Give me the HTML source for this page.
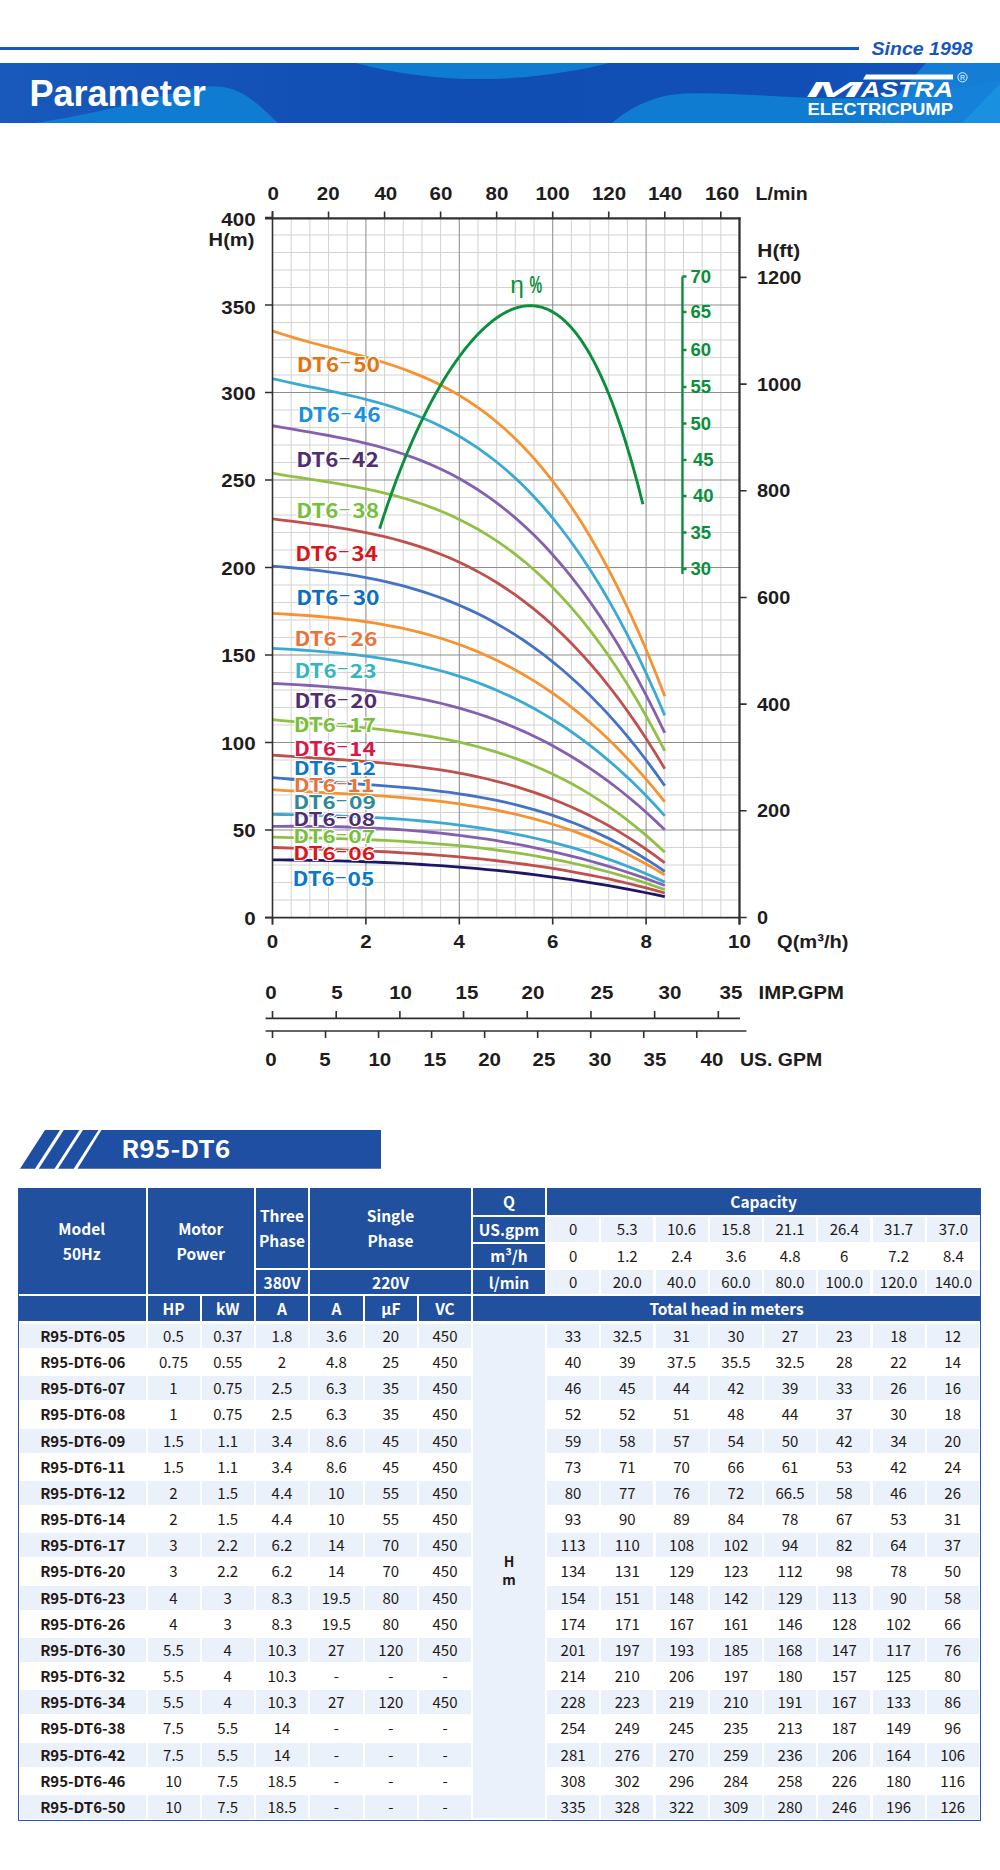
<!DOCTYPE html>
<html><head><meta charset="utf-8"><title>Parameter</title>
<style>
*{margin:0;padding:0;box-sizing:border-box}
html,body{width:1000px;height:1870px;background:#fff;overflow:hidden}
body{position:relative;font-family:"Liberation Sans",Arial,sans-serif}
.abs{position:absolute}
.chart{position:absolute;left:0;top:0}
.c{position:absolute;display:flex;align-items:center;justify-content:center;text-align:center;white-space:nowrap;padding-bottom:1px}
.hd{padding-bottom:0;color:#fff;font-family:"Noto Sans CJK SC","Liberation Sans",sans-serif;font-weight:700;font-size:15.5px;line-height:25px;letter-spacing:0}
.dt{color:#231815;font-family:"Noto Sans CJK SC","Liberation Sans",sans-serif;font-weight:400;font-size:15px}
.md{color:#231815;font-family:"Noto Sans CJK SC","Liberation Sans",sans-serif;font-weight:700;font-size:15px}
.hm{color:#231815;font-family:"Noto Sans CJK SC","Liberation Sans",sans-serif;font-weight:700;font-size:14px;line-height:18px}
</style></head>
<body>

<div class="abs" style="left:0;top:46.5px;width:858.5px;height:3px;background:#1a56c0"></div>
<svg class="abs" style="left:860px;top:30px" width="140" height="30" viewBox="860 30 140 30"><text x="871.5" y="54.6" font-family="Liberation Sans, Arial, sans-serif" font-weight="bold" font-style="italic" font-size="18.6" fill="#1a56c0" textLength="101" lengthAdjust="spacingAndGlyphs">Since 1998</text></svg>
<svg class="abs" style="left:0;top:63px" width="1000" height="60" viewBox="0 63 1000 60">
 <defs><linearGradient id="hg" x1="0" x2="1" y1="0" y2="0"><stop offset="0" stop-color="#1859bb"/><stop offset="0.3" stop-color="#1350b6"/><stop offset="0.5" stop-color="#114eb4"/><stop offset="0.8" stop-color="#114fb6"/><stop offset="1" stop-color="#1455bb"/></linearGradient></defs>
 <rect x="0" y="63" width="1000" height="60" fill="url(#hg)"/>
 <path d="M35,123 C95,114 150,99 185,90 C200,86.2 212,85.4 222,86.8 C246,90 262,108 278,123 Z" fill="#0f7cd1"/>
 <path d="M355,63 C400,75 450,80 490,79 C540,78 580,70 610,63 Z" fill="#0f7cd1"/>
 <path d="M612,123 C632,106 655,95 685,93.5 C740,92 800,100 860,98 C920,96 960,88 1000,80 L1000,123 Z" fill="#0f7cd1"/>
 <path d="M926,63 L1000,63 L1000,123 L880,123 L880,110 C900,95 910,80 926,63 Z" fill="#1682d8" opacity="0.9"/>
 <path d="M1000,84 L1000,123 L962,123 Z" fill="#1a90e0"/>
</svg>
<svg class="abs" style="left:0;top:63px" width="300" height="60" viewBox="0 63 300 60"><text x="29.4" y="106" font-family="Liberation Sans, Arial, sans-serif" font-weight="bold" font-size="36.1" fill="#fff">Parameter</text></svg>
<svg class="abs" style="left:800px;top:63px" width="200" height="60" viewBox="800 63 200 60">
 <polygon points="866,74.4 953,74.4 953,79.6 863,79.6" fill="#fff"/>
 <text y="97.3" font-family="Liberation Sans, Arial, sans-serif" font-weight="bold" font-style="italic" font-size="22" fill="#fff"><tspan x="806" textLength="56" lengthAdjust="spacingAndGlyphs">M</tspan><tspan x="861" textLength="92" lengthAdjust="spacingAndGlyphs">ASTRA</tspan></text>
 <text x="807.5" y="114.8" font-family="Liberation Sans, Arial, sans-serif" font-weight="bold" font-size="17" fill="#fff" textLength="145.5" lengthAdjust="spacingAndGlyphs">ELECTRICPUMP</text>
 <circle cx="962.5" cy="77.3" r="4.6" fill="none" stroke="#fff" stroke-width="0.9"/>
 <text x="962.5" y="80" font-family="Liberation Sans, Arial, sans-serif" font-size="7" fill="#fff" text-anchor="middle">R</text>
</svg>

<svg class="chart" width="1000" height="1100" viewBox="0 0 1000 1100">
<path d="M291.18,218.4V917.5 M309.86,218.4V917.5 M328.54,218.4V917.5 M347.22,218.4V917.5 M384.58,218.4V917.5 M403.26,218.4V917.5 M421.94,218.4V917.5 M440.62,218.4V917.5 M477.98,218.4V917.5 M496.66,218.4V917.5 M515.34,218.4V917.5 M534.02,218.4V917.5 M571.38,218.4V917.5 M590.06,218.4V917.5 M608.74,218.4V917.5 M627.42,218.4V917.5 M664.78,218.4V917.5 M683.46,218.4V917.5 M702.14,218.4V917.5 M720.82,218.4V917.5 M272.5,900.00H739.5 M272.5,882.50H739.5 M272.5,865.00H739.5 M272.5,847.50H739.5 M272.5,812.50H739.5 M272.5,795.00H739.5 M272.5,777.50H739.5 M272.5,760.00H739.5 M272.5,725.00H739.5 M272.5,707.50H739.5 M272.5,690.00H739.5 M272.5,672.50H739.5 M272.5,637.50H739.5 M272.5,620.00H739.5 M272.5,602.50H739.5 M272.5,585.00H739.5 M272.5,550.00H739.5 M272.5,532.50H739.5 M272.5,515.00H739.5 M272.5,497.50H739.5 M272.5,462.50H739.5 M272.5,445.00H739.5 M272.5,427.50H739.5 M272.5,410.00H739.5 M272.5,375.00H739.5 M272.5,357.50H739.5 M272.5,340.00H739.5 M272.5,322.50H739.5 M272.5,287.50H739.5 M272.5,270.00H739.5 M272.5,252.50H739.5 M272.5,235.00H739.5" stroke="#d4d4d4" stroke-width="1.05" fill="none"/>
<path d="M365.90,218.4V917.5 M459.30,218.4V917.5 M552.70,218.4V917.5 M646.10,218.4V917.5 M272.5,830.00H739.5 M272.5,742.50H739.5 M272.5,655.00H739.5 M272.5,567.50H739.5 M272.5,480.00H739.5 M272.5,392.50H739.5 M272.5,305.00H739.5" stroke="#8e8e8e" stroke-width="1.05" fill="none"/>
<path d="M272.50,859.86 L281.84,859.93 L291.18,860.02 L300.52,860.14 L309.86,860.28 L319.20,860.45 L328.54,860.65 L337.88,860.88 L347.22,861.14 L356.56,861.44 L365.90,861.76 L375.24,862.12 L384.58,862.52 L393.92,862.95 L403.26,863.42 L412.60,863.93 L421.94,864.48 L431.28,865.07 L440.62,865.70 L449.96,866.38 L459.30,867.10 L468.64,867.87 L477.98,868.69 L487.32,869.55 L496.66,870.46 L506.00,871.43 L515.34,872.44 L524.68,873.51 L534.02,874.63 L543.36,875.81 L552.70,877.04 L562.04,878.34 L571.38,879.69 L580.72,881.10 L590.06,882.57 L599.40,884.10 L608.74,885.70 L618.08,887.36 L627.42,889.09 L636.76,890.89 L646.10,892.75 L655.44,894.68 L664.78,896.69" stroke="#1e1666" stroke-width="2.8" fill="none" stroke-linecap="butt"/>
<path d="M272.50,847.49 L281.84,847.77 L291.18,848.07 L300.52,848.36 L309.86,848.67 L319.20,848.99 L328.54,849.32 L337.88,849.67 L347.22,850.04 L356.56,850.43 L365.90,850.85 L375.24,851.29 L384.58,851.76 L393.92,852.27 L403.26,852.81 L412.60,853.39 L421.94,854.01 L431.28,854.67 L440.62,855.38 L449.96,856.14 L459.30,856.95 L468.64,857.81 L477.98,858.73 L487.32,859.70 L496.66,860.74 L506.00,861.85 L515.34,863.02 L524.68,864.26 L534.02,865.57 L543.36,866.96 L552.70,868.42 L562.04,869.97 L571.38,871.60 L580.72,873.31 L590.06,875.11 L599.40,877.00 L608.74,878.99 L618.08,881.07 L627.42,883.25 L636.76,885.53 L646.10,887.92 L655.44,890.41 L664.78,893.01" stroke="#c0504d" stroke-width="2.8" fill="none" stroke-linecap="butt"/>
<path d="M272.50,837.19 L281.84,837.37 L291.18,837.55 L300.52,837.74 L309.86,837.95 L319.20,838.17 L328.54,838.41 L337.88,838.67 L347.22,838.96 L356.56,839.28 L365.90,839.63 L375.24,840.01 L384.58,840.44 L393.92,840.91 L403.26,841.43 L412.60,842.00 L421.94,842.62 L431.28,843.30 L440.62,844.05 L449.96,844.85 L459.30,845.73 L468.64,846.68 L477.98,847.70 L487.32,848.81 L496.66,850.00 L506.00,851.27 L515.34,852.63 L524.68,854.09 L534.02,855.65 L543.36,857.30 L552.70,859.06 L562.04,860.93 L571.38,862.91 L580.72,865.00 L590.06,867.21 L599.40,869.55 L608.74,872.01 L618.08,874.60 L627.42,877.32 L636.76,880.18 L646.10,883.18 L655.44,886.32 L664.78,889.61" stroke="#92c047" stroke-width="2.8" fill="none" stroke-linecap="butt"/>
<path d="M272.50,826.39 L281.84,826.30 L291.18,826.25 L300.52,826.25 L309.86,826.29 L319.20,826.39 L328.54,826.53 L337.88,826.74 L347.22,827.00 L356.56,827.31 L365.90,827.69 L375.24,828.14 L384.58,828.65 L393.92,829.23 L403.26,829.87 L412.60,830.59 L421.94,831.39 L431.28,832.26 L440.62,833.21 L449.96,834.24 L459.30,835.36 L468.64,836.56 L477.98,837.85 L487.32,839.23 L496.66,840.70 L506.00,842.27 L515.34,843.94 L524.68,845.70 L534.02,847.56 L543.36,849.53 L552.70,851.60 L562.04,853.78 L571.38,856.07 L580.72,858.48 L590.06,860.99 L599.40,863.63 L608.74,866.38 L618.08,869.26 L627.42,872.25 L636.76,875.38 L646.10,878.63 L655.44,882.01 L664.78,885.52" stroke="#8560b0" stroke-width="2.8" fill="none" stroke-linecap="butt"/>
<path d="M272.50,814.33 L281.84,814.51 L291.18,814.70 L300.52,814.90 L309.86,815.12 L319.20,815.37 L328.54,815.65 L337.88,815.96 L347.22,816.31 L356.56,816.70 L365.90,817.14 L375.24,817.63 L384.58,818.17 L393.92,818.77 L403.26,819.44 L412.60,820.18 L421.94,820.99 L431.28,821.87 L440.62,822.84 L449.96,823.90 L459.30,825.04 L468.64,826.28 L477.98,827.62 L487.32,829.07 L496.66,830.62 L506.00,832.28 L515.34,834.06 L524.68,835.97 L534.02,838.00 L543.36,840.16 L552.70,842.45 L562.04,844.89 L571.38,847.47 L580.72,850.19 L590.06,853.07 L599.40,856.11 L608.74,859.31 L618.08,862.67 L627.42,866.20 L636.76,869.91 L646.10,873.80 L655.44,877.87 L664.78,882.13" stroke="#3aaad4" stroke-width="2.8" fill="none" stroke-linecap="butt"/>
<path d="M272.50,789.70 L281.84,790.29 L291.18,790.84 L300.52,791.37 L309.86,791.88 L319.20,792.38 L328.54,792.87 L337.88,793.37 L347.22,793.88 L356.56,794.42 L365.90,794.98 L375.24,795.58 L384.58,796.22 L393.92,796.91 L403.26,797.67 L412.60,798.49 L421.94,799.39 L431.28,800.37 L440.62,801.44 L449.96,802.61 L459.30,803.89 L468.64,805.28 L477.98,806.80 L487.32,808.44 L496.66,810.23 L506.00,812.16 L515.34,814.24 L524.68,816.49 L534.02,818.91 L543.36,821.50 L552.70,824.28 L562.04,827.25 L571.38,830.43 L580.72,833.81 L590.06,837.41 L599.40,841.24 L608.74,845.30 L618.08,849.59 L627.42,854.14 L636.76,858.94 L646.10,864.01 L655.44,869.35 L664.78,874.97" stroke="#f7922f" stroke-width="2.8" fill="none" stroke-linecap="butt"/>
<path d="M272.50,777.59 L281.84,778.46 L291.18,779.25 L300.52,780.00 L309.86,780.70 L319.20,781.36 L328.54,782.00 L337.88,782.62 L347.22,783.24 L356.56,783.86 L365.90,784.49 L375.24,785.15 L384.58,785.84 L393.92,786.58 L403.26,787.37 L412.60,788.23 L421.94,789.16 L431.28,790.17 L440.62,791.27 L449.96,792.48 L459.30,793.80 L468.64,795.25 L477.98,796.82 L487.32,798.54 L496.66,800.41 L506.00,802.45 L515.34,804.66 L524.68,807.05 L534.02,809.63 L543.36,812.41 L552.70,815.41 L562.04,818.62 L571.38,822.07 L580.72,825.76 L590.06,829.70 L599.40,833.90 L608.74,838.38 L618.08,843.13 L627.42,848.18 L636.76,853.53 L646.10,859.18 L655.44,865.16 L664.78,871.47" stroke="#4472c4" stroke-width="2.8" fill="none" stroke-linecap="butt"/>
<path d="M272.50,755.04 L281.84,755.74 L291.18,756.39 L300.52,757.03 L309.86,757.65 L319.20,758.26 L328.54,758.88 L337.88,759.50 L347.22,760.15 L356.56,760.84 L365.90,761.56 L375.24,762.33 L384.58,763.17 L393.92,764.07 L403.26,765.05 L412.60,766.12 L421.94,767.29 L431.28,768.57 L440.62,769.96 L449.96,771.48 L459.30,773.13 L468.64,774.93 L477.98,776.88 L487.32,779.00 L496.66,781.29 L506.00,783.77 L515.34,786.43 L524.68,789.30 L534.02,792.38 L543.36,795.68 L552.70,799.21 L562.04,802.98 L571.38,807.00 L580.72,811.27 L590.06,815.82 L599.40,820.64 L608.74,825.75 L618.08,831.16 L627.42,836.87 L636.76,842.89 L646.10,849.24 L655.44,855.93 L664.78,862.96" stroke="#c0504d" stroke-width="2.8" fill="none" stroke-linecap="butt"/>
<path d="M272.50,719.67 L281.84,720.57 L291.18,721.42 L300.52,722.24 L309.86,723.03 L319.20,723.82 L328.54,724.60 L337.88,725.39 L347.22,726.21 L356.56,727.06 L365.90,727.96 L375.24,728.92 L384.58,729.95 L393.92,731.07 L403.26,732.27 L412.60,733.59 L421.94,735.02 L431.28,736.58 L440.62,738.28 L449.96,740.14 L459.30,742.16 L468.64,744.36 L477.98,746.75 L487.32,749.33 L496.66,752.13 L506.00,755.16 L515.34,758.42 L524.68,761.92 L534.02,765.69 L543.36,769.73 L552.70,774.05 L562.04,778.66 L571.38,783.58 L580.72,788.82 L590.06,794.39 L599.40,800.30 L608.74,806.57 L618.08,813.20 L627.42,820.21 L636.76,827.60 L646.10,835.40 L655.44,843.61 L664.78,852.25" stroke="#92c047" stroke-width="2.8" fill="none" stroke-linecap="butt"/>
<path d="M272.50,683.48 L281.84,683.93 L291.18,684.41 L300.52,684.92 L309.86,685.48 L319.20,686.10 L328.54,686.78 L337.88,687.54 L347.22,688.38 L356.56,689.31 L365.90,690.34 L375.24,691.47 L384.58,692.73 L393.92,694.11 L403.26,695.63 L412.60,697.30 L421.94,699.12 L431.28,701.10 L440.62,703.25 L449.96,705.59 L459.30,708.11 L468.64,710.84 L477.98,713.77 L487.32,716.91 L496.66,720.29 L506.00,723.90 L515.34,727.75 L524.68,731.85 L534.02,736.22 L543.36,740.85 L552.70,745.77 L562.04,750.97 L571.38,756.47 L580.72,762.28 L590.06,768.40 L599.40,774.85 L608.74,781.63 L618.08,788.76 L627.42,796.23 L636.76,804.06 L646.10,812.27 L655.44,820.85 L664.78,829.81" stroke="#8560b0" stroke-width="2.8" fill="none" stroke-linecap="butt"/>
<path d="M272.50,648.45 L281.84,648.93 L291.18,649.44 L300.52,650.00 L309.86,650.62 L319.20,651.30 L328.54,652.05 L337.88,652.90 L347.22,653.83 L356.56,654.88 L365.90,656.04 L375.24,657.33 L384.58,658.76 L393.92,660.33 L403.26,662.06 L412.60,663.96 L421.94,666.04 L431.28,668.30 L440.62,670.77 L449.96,673.44 L459.30,676.33 L468.64,679.45 L477.98,682.80 L487.32,686.41 L496.66,690.28 L506.00,694.41 L515.34,698.83 L524.68,703.53 L534.02,708.54 L543.36,713.86 L552.70,719.49 L562.04,725.46 L571.38,731.77 L580.72,738.43 L590.06,745.45 L599.40,752.84 L608.74,760.61 L618.08,768.78 L627.42,777.35 L636.76,786.33 L646.10,795.73 L655.44,805.56 L664.78,815.84" stroke="#3aaad4" stroke-width="2.8" fill="none" stroke-linecap="butt"/>
<path d="M272.50,613.42 L281.84,613.93 L291.18,614.48 L300.52,615.08 L309.86,615.75 L319.20,616.49 L328.54,617.32 L337.88,618.25 L347.22,619.29 L356.56,620.45 L365.90,621.75 L375.24,623.19 L384.58,624.78 L393.92,626.55 L403.26,628.49 L412.60,630.62 L421.94,632.96 L431.28,635.50 L440.62,638.28 L449.96,641.28 L459.30,644.54 L468.64,648.05 L477.98,651.84 L487.32,655.91 L496.66,660.27 L506.00,664.93 L515.34,669.91 L524.68,675.22 L534.02,680.86 L543.36,686.86 L552.70,693.22 L562.04,699.95 L571.38,707.06 L580.72,714.57 L590.06,722.49 L599.40,730.83 L608.74,739.59 L618.08,748.80 L627.42,758.46 L636.76,768.59 L646.10,779.19 L655.44,790.28 L664.78,801.87" stroke="#f7922f" stroke-width="2.8" fill="none" stroke-linecap="butt"/>
<path d="M272.50,566.17 L281.84,566.94 L291.18,567.76 L300.52,568.64 L309.86,569.59 L319.20,570.63 L328.54,571.77 L337.88,573.02 L347.22,574.40 L356.56,575.91 L365.90,577.57 L375.24,579.40 L384.58,581.40 L393.92,583.59 L403.26,585.97 L412.60,588.57 L421.94,591.40 L431.28,594.47 L440.62,597.78 L449.96,601.36 L459.30,605.22 L468.64,609.37 L477.98,613.82 L487.32,618.58 L496.66,623.67 L506.00,629.10 L515.34,634.88 L524.68,641.03 L534.02,647.56 L543.36,654.48 L552.70,661.80 L562.04,669.54 L571.38,677.70 L580.72,686.31 L590.06,695.37 L599.40,704.90 L608.74,714.91 L618.08,725.41 L627.42,736.42 L636.76,747.94 L646.10,760.00 L655.44,772.59 L664.78,785.75" stroke="#4472c4" stroke-width="2.8" fill="none" stroke-linecap="butt"/>
<path d="M272.50,518.90 L281.84,520.04 L291.18,521.18 L300.52,522.34 L309.86,523.54 L319.20,524.81 L328.54,526.14 L337.88,527.57 L347.22,529.10 L356.56,530.77 L365.90,532.57 L375.24,534.53 L384.58,536.68 L393.92,539.01 L403.26,541.56 L412.60,544.34 L421.94,547.36 L431.28,550.65 L440.62,554.22 L449.96,558.08 L459.30,562.26 L468.64,566.78 L477.98,571.64 L487.32,576.87 L496.66,582.48 L506.00,588.49 L515.34,594.92 L524.68,601.79 L534.02,609.11 L543.36,616.89 L552.70,625.17 L562.04,633.95 L571.38,643.25 L580.72,653.09 L590.06,663.48 L599.40,674.45 L608.74,686.00 L618.08,698.17 L627.42,710.95 L636.76,724.38 L646.10,738.47 L655.44,753.24 L664.78,768.69" stroke="#c0504d" stroke-width="2.8" fill="none" stroke-linecap="butt"/>
<path d="M272.50,473.22 L281.84,474.77 L291.18,476.26 L300.52,477.71 L309.86,479.15 L319.20,480.61 L328.54,482.10 L337.88,483.65 L347.22,485.28 L356.56,487.02 L365.90,488.88 L375.24,490.89 L384.58,493.07 L393.92,495.44 L403.26,498.03 L412.60,500.86 L421.94,503.96 L431.28,507.33 L440.62,511.02 L449.96,515.04 L459.30,519.41 L468.64,524.15 L477.98,529.30 L487.32,534.86 L496.66,540.87 L506.00,547.35 L515.34,554.32 L524.68,561.80 L534.02,569.81 L543.36,578.38 L552.70,587.53 L562.04,597.29 L571.38,607.67 L580.72,618.70 L590.06,630.40 L599.40,642.79 L608.74,655.90 L618.08,669.75 L627.42,684.37 L636.76,699.77 L646.10,715.97 L655.44,733.01 L664.78,750.90" stroke="#92c047" stroke-width="2.8" fill="none" stroke-linecap="butt"/>
<path d="M272.50,425.74 L281.84,427.38 L291.18,428.98 L300.52,430.56 L309.86,432.17 L319.20,433.80 L328.54,435.50 L337.88,437.28 L347.22,439.17 L356.56,441.18 L365.90,443.35 L375.24,445.70 L384.58,448.24 L393.92,451.01 L403.26,454.02 L412.60,457.31 L421.94,460.88 L431.28,464.77 L440.62,469.00 L449.96,473.59 L459.30,478.57 L468.64,483.96 L477.98,489.78 L487.32,496.06 L496.66,502.81 L506.00,510.07 L515.34,517.85 L524.68,526.18 L534.02,535.09 L543.36,544.59 L552.70,554.71 L562.04,565.47 L571.38,576.89 L580.72,589.01 L590.06,601.84 L599.40,615.40 L608.74,629.72 L618.08,644.82 L627.42,660.73 L636.76,677.47 L646.10,695.06 L655.44,713.52 L664.78,732.88" stroke="#8560b0" stroke-width="2.8" fill="none" stroke-linecap="butt"/>
<path d="M272.50,378.61 L281.84,380.76 L291.18,382.83 L300.52,384.82 L309.86,386.78 L319.20,388.73 L328.54,390.70 L337.88,392.72 L347.22,394.81 L356.56,397.01 L365.90,399.34 L375.24,401.83 L384.58,404.52 L393.92,407.42 L403.26,410.57 L412.60,414.00 L421.94,417.73 L431.28,421.80 L440.62,426.23 L449.96,431.05 L459.30,436.28 L468.64,441.97 L477.98,448.13 L487.32,454.80 L496.66,462.00 L506.00,469.76 L515.34,478.12 L524.68,487.09 L534.02,496.71 L543.36,507.01 L552.70,518.01 L562.04,529.74 L571.38,542.24 L580.72,555.53 L590.06,569.64 L599.40,584.59 L608.74,600.42 L618.08,617.16 L627.42,634.83 L636.76,653.46 L646.10,673.08 L655.44,693.73 L664.78,715.42" stroke="#3aaad4" stroke-width="2.8" fill="none" stroke-linecap="butt"/>
<path d="M272.50,330.87 L281.84,333.97 L291.18,336.88 L300.52,339.62 L309.86,342.23 L319.20,344.75 L328.54,347.21 L337.88,349.65 L347.22,352.10 L356.56,354.60 L365.90,357.18 L375.24,359.88 L384.58,362.73 L393.92,365.78 L403.26,369.05 L412.60,372.58 L421.94,376.41 L431.28,380.57 L440.62,385.09 L449.96,390.02 L459.30,395.39 L468.64,401.23 L477.98,407.59 L487.32,414.48 L496.66,421.96 L506.00,430.06 L515.34,438.80 L524.68,448.23 L534.02,458.39 L543.36,469.30 L552.70,481.01 L562.04,493.54 L571.38,506.94 L580.72,521.25 L590.06,536.48 L599.40,552.69 L608.74,569.90 L618.08,588.16 L627.42,607.49 L636.76,627.94 L646.10,649.53 L655.44,672.31 L664.78,696.31" stroke="#f7922f" stroke-width="2.8" fill="none" stroke-linecap="butt"/>
<path d="M379.60,528.70 L381.07,524.10 L382.54,519.57 L384.01,515.11 L385.48,510.71 L386.95,506.38 L388.43,502.12 L389.90,497.91 L391.37,493.77 L392.84,489.69 L394.31,485.67 L395.78,481.71 L397.25,477.80 L398.72,473.96 L400.19,470.17 L401.66,466.43 L403.14,462.75 L404.61,459.12 L406.08,455.55 L407.55,452.03 L409.02,448.56 L410.49,445.14 L411.96,441.77 L413.43,438.44 L414.90,435.17 L416.37,431.95 L417.84,428.77 L419.32,425.64 L420.79,422.55 L422.26,419.51 L423.73,416.52 L425.20,413.56 L426.67,410.66 L428.14,407.79 L429.61,404.97 L431.08,402.19 L432.55,399.46 L434.03,396.76 L435.50,394.11 L436.97,391.50 L438.44,388.93 L439.91,386.39 L441.38,383.90 L442.85,381.45 L444.32,379.04 L445.79,376.66 L447.26,374.33 L448.73,372.03 L450.21,369.77 L451.68,367.55 L453.15,365.37 L454.62,363.23 L456.09,361.12 L457.56,359.05 L459.03,357.02 L460.50,355.03 L461.97,353.07 L463.44,351.15 L464.92,349.27 L466.39,347.43 L467.86,345.62 L469.33,343.85 L470.80,342.12 L472.27,340.43 L473.74,338.77 L475.21,337.15 L476.68,335.57 L478.15,334.03 L479.62,332.52 L481.10,331.05 L482.57,329.62 L484.04,328.23 L485.51,326.88 L486.98,325.57 L488.45,324.29 L489.92,323.06 L491.39,321.86 L492.86,320.71 L494.33,319.59 L495.81,318.51 L497.28,317.48 L498.75,316.48 L500.22,315.53 L501.69,314.62 L503.16,313.75 L504.63,312.92 L506.10,312.14 L507.57,311.40 L509.04,310.70 L510.51,310.04 L511.99,309.43 L513.46,308.86 L514.93,308.34 L516.40,307.87 L517.87,307.43 L519.34,307.05 L520.81,306.71 L522.28,306.42 L523.75,306.18 L525.22,305.99 L526.69,305.84 L528.17,305.75 L529.64,305.70 L531.11,305.70 L532.58,305.76 L534.05,305.87 L535.52,306.03 L536.99,306.24 L538.46,306.50 L539.93,306.82 L541.40,307.19 L542.88,307.62 L544.35,308.10 L545.82,308.64 L547.29,309.24 L548.76,309.89 L550.23,310.60 L551.70,311.38 L553.17,312.21 L554.64,313.10 L556.11,314.05 L557.58,315.06 L559.06,316.13 L560.53,317.27 L562.00,318.47 L563.47,319.74 L564.94,321.07 L566.41,322.46 L567.88,323.93 L569.35,325.46 L570.82,327.05 L572.29,328.72 L573.77,330.45 L575.24,332.26 L576.71,334.13 L578.18,336.08 L579.65,338.10 L581.12,340.19 L582.59,342.36 L584.06,344.60 L585.53,346.91 L587.00,349.30 L588.47,351.77 L589.95,354.32 L591.42,356.94 L592.89,359.64 L594.36,362.43 L595.83,365.29 L597.30,368.24 L598.77,371.26 L600.24,374.38 L601.71,377.57 L603.18,380.85 L604.66,384.21 L606.13,387.66 L607.60,391.20 L609.07,394.83 L610.54,398.54 L612.01,402.34 L613.48,406.24 L614.95,410.22 L616.42,414.30 L617.89,418.46 L619.36,422.73 L620.84,427.08 L622.31,431.53 L623.78,436.08 L625.25,440.72 L626.72,445.46 L628.19,450.30 L629.66,455.24 L631.13,460.27 L632.60,465.41 L634.07,470.65 L635.55,475.99 L637.02,481.43 L638.49,486.98 L639.96,492.63 L641.43,498.38 L642.90,504.24" stroke="#0a8f3c" stroke-width="2.9" fill="none" stroke-linejoin="round"/>
<path d="M265,218.4H740.5" stroke="#332f2c" stroke-width="2.1" fill="none"/>
<path d="M272.5,211V924.5" stroke="#332f2c" stroke-width="1.6" fill="none"/>
<path d="M265,917.6H740" stroke="#332f2c" stroke-width="1.7" fill="none"/>
<path d="M739.5,217.4V924.5" stroke="#332f2c" stroke-width="2.3" fill="none"/>
<path d="M272.50,211.5V218.4 M328.54,211.5V218.4 M384.58,211.5V218.4 M440.62,211.5V218.4 M496.66,211.5V218.4 M552.70,211.5V218.4 M608.74,211.5V218.4 M664.78,211.5V218.4 M720.82,211.5V218.4 M265,917.50H272.5 M265,830.00H272.5 M265,742.50H272.5 M265,655.00H272.5 M265,567.50H272.5 M265,480.00H272.5 M265,392.50H272.5 M265,305.00H272.5 M265,217.50H272.5 M272.50,917.5V924.5 M365.90,917.5V924.5 M459.30,917.5V924.5 M552.70,917.5V924.5 M646.10,917.5V924.5 M739.50,917.5V924.5 M739.5,917.50H746.6 M739.5,810.82H746.6 M739.5,704.14H746.6 M739.5,597.46H746.6 M739.5,490.78H746.6 M739.5,384.10H746.6 M739.5,277.42H746.6" stroke="#332f2c" stroke-width="1.6" fill="none"/>
<g font-family="Liberation Sans, Arial, sans-serif" font-weight="bold" fill="#1f1c1d" font-size="19">
<text transform="translate(273.10,199.80) scale(1.080,1)" text-anchor="middle">0</text>
<text transform="translate(328.20,199.80) scale(1.080,1)" text-anchor="middle">20</text>
<text transform="translate(385.80,199.80) scale(1.080,1)" text-anchor="middle">40</text>
<text transform="translate(441.00,199.80) scale(1.080,1)" text-anchor="middle">60</text>
<text transform="translate(497.00,199.80) scale(1.080,1)" text-anchor="middle">80</text>
<text transform="translate(552.50,199.80) scale(1.080,1)" text-anchor="middle">100</text>
<text transform="translate(609.00,199.80) scale(1.080,1)" text-anchor="middle">120</text>
<text transform="translate(665.00,199.80) scale(1.080,1)" text-anchor="middle">140</text>
<text transform="translate(722.00,199.80) scale(1.080,1)" text-anchor="middle">160</text>
<text transform="translate(755.60,199.80) scale(1.030,1)" text-anchor="start">L/min</text>
<text transform="translate(255.60,924.80) scale(1.080,1)" text-anchor="end">0</text>
<text transform="translate(255.60,837.30) scale(1.080,1)" text-anchor="end">50</text>
<text transform="translate(255.60,749.80) scale(1.080,1)" text-anchor="end">100</text>
<text transform="translate(255.60,662.30) scale(1.080,1)" text-anchor="end">150</text>
<text transform="translate(255.60,574.80) scale(1.080,1)" text-anchor="end">200</text>
<text transform="translate(255.60,487.30) scale(1.080,1)" text-anchor="end">250</text>
<text transform="translate(255.60,399.80) scale(1.080,1)" text-anchor="end">300</text>
<text transform="translate(255.60,313.70) scale(1.080,1)" text-anchor="end">350</text>
<text transform="translate(255.60,226.10) scale(1.080,1)" text-anchor="end">400</text>
<text transform="translate(208.60,245.70) scale(1.060,1)" text-anchor="start">H(m)</text>
<text transform="translate(757.00,924.10) scale(1.050,1)" text-anchor="start">0</text>
<text transform="translate(757.00,817.42) scale(1.050,1)" text-anchor="start">200</text>
<text transform="translate(757.00,710.74) scale(1.050,1)" text-anchor="start">400</text>
<text transform="translate(757.00,604.06) scale(1.050,1)" text-anchor="start">600</text>
<text transform="translate(757.00,497.38) scale(1.050,1)" text-anchor="start">800</text>
<text transform="translate(757.00,390.70) scale(1.050,1)" text-anchor="start">1000</text>
<text transform="translate(757.00,284.02) scale(1.050,1)" text-anchor="start">1200</text>
<text transform="translate(757.30,257.20) scale(1.100,1)" text-anchor="start">H(ft)</text>
<text transform="translate(272.50,948.30) scale(1.080,1)" text-anchor="middle">0</text>
<text transform="translate(365.90,948.30) scale(1.080,1)" text-anchor="middle">2</text>
<text transform="translate(459.30,948.30) scale(1.080,1)" text-anchor="middle">4</text>
<text transform="translate(552.70,948.30) scale(1.080,1)" text-anchor="middle">6</text>
<text transform="translate(646.10,948.30) scale(1.080,1)" text-anchor="middle">8</text>
<text transform="translate(739.50,948.30) scale(1.080,1)" text-anchor="middle">10</text>
<text transform="translate(777.00,948.30) scale(1.060,1)" text-anchor="start">Q(m³/h)</text>
</g>
<path d="M265.6,1018.4H740 M265.6,1031H746.4 M272.50,1011V1018.4 M336.19,1011V1018.4 M399.88,1011V1018.4 M463.57,1011V1018.4 M527.26,1011V1018.4 M590.95,1011V1018.4 M654.64,1011V1018.4 M718.33,1011V1018.4 M272.50,1031V1038 M325.53,1031V1038 M378.57,1031V1038 M431.60,1031V1038 M484.63,1031V1038 M537.67,1031V1038 M590.70,1031V1038 M643.74,1031V1038 M696.77,1031V1038" stroke="#332f2c" stroke-width="1.6" fill="none"/>
<g font-family="Liberation Sans, Arial, sans-serif" font-weight="bold" fill="#1f1c1d" font-size="19">
<text transform="translate(271.00,998.60) scale(1.080,1)" text-anchor="middle">0</text>
<text transform="translate(337.00,998.60) scale(1.080,1)" text-anchor="middle">5</text>
<text transform="translate(400.60,998.60) scale(1.080,1)" text-anchor="middle">10</text>
<text transform="translate(467.00,998.60) scale(1.080,1)" text-anchor="middle">15</text>
<text transform="translate(533.00,998.60) scale(1.080,1)" text-anchor="middle">20</text>
<text transform="translate(602.00,998.60) scale(1.080,1)" text-anchor="middle">25</text>
<text transform="translate(670.00,998.60) scale(1.080,1)" text-anchor="middle">30</text>
<text transform="translate(731.00,998.60) scale(1.080,1)" text-anchor="middle">35</text>
<text transform="translate(271.00,1066.40) scale(1.080,1)" text-anchor="middle">0</text>
<text transform="translate(325.00,1066.40) scale(1.080,1)" text-anchor="middle">5</text>
<text transform="translate(379.80,1066.40) scale(1.080,1)" text-anchor="middle">10</text>
<text transform="translate(435.00,1066.40) scale(1.080,1)" text-anchor="middle">15</text>
<text transform="translate(489.60,1066.40) scale(1.080,1)" text-anchor="middle">20</text>
<text transform="translate(544.00,1066.40) scale(1.080,1)" text-anchor="middle">25</text>
<text transform="translate(600.00,1066.40) scale(1.080,1)" text-anchor="middle">30</text>
<text transform="translate(655.00,1066.40) scale(1.080,1)" text-anchor="middle">35</text>
<text transform="translate(712.00,1066.40) scale(1.080,1)" text-anchor="middle">40</text>
<text x="758.6" y="998.6" textLength="85.4" lengthAdjust="spacingAndGlyphs">IMP.GPM</text>
<text x="740" y="1066.4" textLength="82.2" lengthAdjust="spacingAndGlyphs">US. GPM</text>
</g>
<path d="M682.4,276.5V574 M682.4,276.5H686.5 M682.4,312.0H686.5 M682.4,350.0H686.5 M682.4,387.0H686.5 M682.4,423.5H686.5 M682.4,460.0H686.5 M682.4,496.0H686.5 M682.4,532.5H686.5 M682.4,569.0H686.5" stroke="#0a8f3c" stroke-width="2.3" fill="none"/>
<g font-family="Liberation Sans, Arial, sans-serif" font-weight="bold" fill="#0a8f3c" font-size="18.3">
<text x="690.5" y="282.7" textLength="20.6" lengthAdjust="spacingAndGlyphs">70</text>
<text x="690.5" y="318.2" textLength="20.6" lengthAdjust="spacingAndGlyphs">65</text>
<text x="690.5" y="356.2" textLength="20.6" lengthAdjust="spacingAndGlyphs">60</text>
<text x="690.5" y="393.2" textLength="20.6" lengthAdjust="spacingAndGlyphs">55</text>
<text x="690.5" y="429.7" textLength="20.6" lengthAdjust="spacingAndGlyphs">50</text>
<text x="693.0" y="466.2" textLength="20.6" lengthAdjust="spacingAndGlyphs">45</text>
<text x="693.0" y="502.2" textLength="20.6" lengthAdjust="spacingAndGlyphs">40</text>
<text x="690.5" y="538.7" textLength="20.6" lengthAdjust="spacingAndGlyphs">35</text>
<text x="690.5" y="575.2" textLength="20.6" lengthAdjust="spacingAndGlyphs">30</text>
</g>
<text y="292.6" font-family="Liberation Sans, Arial, sans-serif" font-size="24.5" fill="#0a8f3c"><tspan x="510.2">η</tspan><tspan x="529.6" font-weight="bold" textLength="12.6" lengthAdjust="spacingAndGlyphs">%</tspan></text>
<g font-family="Noto Sans CJK SC, Liberation Sans, sans-serif" font-weight="bold" stroke="#fff" stroke-width="2.2" paint-order="stroke" stroke-linejoin="round">
<text y="371.50" font-size="20.27" fill="#e8720c"><tspan x="296.88" textLength="42.15" lengthAdjust="spacingAndGlyphs">DT6</tspan><tspan x="339.90" y="366.65" font-size="14" textLength="10.60" lengthAdjust="spacingAndGlyphs">—</tspan><tspan x="353.18" y="371.50" textLength="26.89" lengthAdjust="spacingAndGlyphs">50</tspan></text>
<text y="422.40" font-size="20.27" fill="#1b8fe0"><tspan x="297.68" textLength="42.15" lengthAdjust="spacingAndGlyphs">DT6</tspan><tspan x="340.70" y="417.55" font-size="14" textLength="10.60" lengthAdjust="spacingAndGlyphs">—</tspan><tspan x="353.78" y="422.40" textLength="26.89" lengthAdjust="spacingAndGlyphs">46</tspan></text>
<text y="467.30" font-size="20.14" fill="#4f2f72"><tspan x="296.19" textLength="42.15" lengthAdjust="spacingAndGlyphs">DT6</tspan><tspan x="339.20" y="462.51" font-size="14" textLength="10.60" lengthAdjust="spacingAndGlyphs">—</tspan><tspan x="351.99" y="467.30" textLength="26.89" lengthAdjust="spacingAndGlyphs">42</tspan></text>
<text y="518.30" font-size="19.73" fill="#78c03c"><tspan x="296.22" textLength="42.15" lengthAdjust="spacingAndGlyphs">DT6</tspan><tspan x="339.20" y="513.69" font-size="14" textLength="10.60" lengthAdjust="spacingAndGlyphs">—</tspan><tspan x="352.32" y="518.30" textLength="26.89" lengthAdjust="spacingAndGlyphs">38</tspan></text>
<text y="561.00" font-size="20.27" fill="#d7191f"><tspan x="295.38" textLength="42.15" lengthAdjust="spacingAndGlyphs">DT6</tspan><tspan x="338.40" y="556.15" font-size="14" textLength="10.60" lengthAdjust="spacingAndGlyphs">—</tspan><tspan x="351.18" y="561.00" textLength="26.89" lengthAdjust="spacingAndGlyphs">34</tspan></text>
<text y="605.20" font-size="20.27" fill="#0b6fc0"><tspan x="296.18" textLength="42.15" lengthAdjust="spacingAndGlyphs">DT6</tspan><tspan x="339.20" y="600.35" font-size="14" textLength="10.60" lengthAdjust="spacingAndGlyphs">—</tspan><tspan x="352.68" y="605.20" textLength="26.89" lengthAdjust="spacingAndGlyphs">30</tspan></text>
<text y="645.50" font-size="19.32" fill="#e8743c"><tspan x="294.46" textLength="42.15" lengthAdjust="spacingAndGlyphs">DT6</tspan><tspan x="337.40" y="641.08" font-size="14" textLength="10.60" lengthAdjust="spacingAndGlyphs">—</tspan><tspan x="350.54" y="645.50" textLength="26.89" lengthAdjust="spacingAndGlyphs">26</tspan></text>
<text y="677.70" font-size="19.32" fill="#36b4c2"><tspan x="294.46" textLength="42.15" lengthAdjust="spacingAndGlyphs">DT6</tspan><tspan x="337.40" y="673.28" font-size="14" textLength="10.60" lengthAdjust="spacingAndGlyphs">—</tspan><tspan x="349.74" y="677.70" textLength="26.89" lengthAdjust="spacingAndGlyphs">23</tspan></text>
<text y="708.40" font-size="19.19" fill="#4f2f72"><tspan x="294.47" textLength="42.15" lengthAdjust="spacingAndGlyphs">DT6</tspan><tspan x="337.40" y="704.04" font-size="14" textLength="10.60" lengthAdjust="spacingAndGlyphs">—</tspan><tspan x="350.25" y="708.40" textLength="26.89" lengthAdjust="spacingAndGlyphs">20</tspan></text>
<text y="732.40" font-size="19.32" fill="#78c03c"><tspan x="293.66" textLength="42.15" lengthAdjust="spacingAndGlyphs">DT6</tspan><tspan x="336.60" y="727.98" font-size="14" textLength="10.60" lengthAdjust="spacingAndGlyphs">—</tspan><tspan x="349.04" y="732.40" textLength="26.89" lengthAdjust="spacingAndGlyphs">17</tspan></text>
<text y="755.60" font-size="19.32" fill="#d7194a"><tspan x="293.96" textLength="42.15" lengthAdjust="spacingAndGlyphs">DT6</tspan><tspan x="336.90" y="751.18" font-size="14" textLength="10.60" lengthAdjust="spacingAndGlyphs">—</tspan><tspan x="349.04" y="755.60" textLength="26.89" lengthAdjust="spacingAndGlyphs">14</tspan></text>
<text y="775.00" font-size="18.11" fill="#0b78c8"><tspan x="293.77" textLength="42.15" lengthAdjust="spacingAndGlyphs">DT6</tspan><tspan x="336.60" y="771.13" font-size="14" textLength="10.60" lengthAdjust="spacingAndGlyphs">—</tspan><tspan x="349.11" y="775.00" textLength="26.89" lengthAdjust="spacingAndGlyphs">12</tspan></text>
<text y="792.30" font-size="18.24" fill="#e8743c"><tspan x="293.76" textLength="42.15" lengthAdjust="spacingAndGlyphs">DT6</tspan><tspan x="336.60" y="788.36" font-size="14" textLength="10.60" lengthAdjust="spacingAndGlyphs">—</tspan><tspan x="347.61" y="792.30" textLength="26.89" lengthAdjust="spacingAndGlyphs">11</tspan></text>
<text y="808.80" font-size="18.24" fill="#2c8a9a"><tspan x="293.36" textLength="42.15" lengthAdjust="spacingAndGlyphs">DT6</tspan><tspan x="336.20" y="804.86" font-size="14" textLength="10.60" lengthAdjust="spacingAndGlyphs">—</tspan><tspan x="349.11" y="808.80" textLength="26.89" lengthAdjust="spacingAndGlyphs">09</tspan></text>
<text y="826.00" font-size="18.24" fill="#4f2f72"><tspan x="293.36" textLength="42.15" lengthAdjust="spacingAndGlyphs">DT6</tspan><tspan x="336.20" y="822.06" font-size="14" textLength="10.60" lengthAdjust="spacingAndGlyphs">—</tspan><tspan x="348.31" y="826.00" textLength="26.89" lengthAdjust="spacingAndGlyphs">08</tspan></text>
<text y="843.20" font-size="18.24" fill="#78c03c"><tspan x="293.36" textLength="42.15" lengthAdjust="spacingAndGlyphs">DT6</tspan><tspan x="336.20" y="839.26" font-size="14" textLength="10.60" lengthAdjust="spacingAndGlyphs">—</tspan><tspan x="348.31" y="843.20" textLength="26.89" lengthAdjust="spacingAndGlyphs">07</tspan></text>
<text y="859.70" font-size="18.24" fill="#d7191f"><tspan x="293.36" textLength="42.15" lengthAdjust="spacingAndGlyphs">DT6</tspan><tspan x="336.20" y="855.76" font-size="14" textLength="10.60" lengthAdjust="spacingAndGlyphs">—</tspan><tspan x="348.31" y="859.70" textLength="26.89" lengthAdjust="spacingAndGlyphs">06</tspan></text>
<text y="885.90" font-size="19.19" fill="#0b78c8"><tspan x="292.47" textLength="42.15" lengthAdjust="spacingAndGlyphs">DT6</tspan><tspan x="335.40" y="881.54" font-size="14" textLength="10.60" lengthAdjust="spacingAndGlyphs">—</tspan><tspan x="347.55" y="885.90" textLength="26.89" lengthAdjust="spacingAndGlyphs">05</tspan></text>
</g>
</svg>

<svg class="abs" style="left:0;top:1128px" width="400" height="44" viewBox="0 1128 400 44">
 <g fill="#1f4fa3">
  <polygon points="20,1168.75 35,1168.75 60,1130 45,1130"/>
  <polygon points="38.75,1168.75 54.5,1168.75 79.5,1130 63.75,1130"/>
  <polygon points="58,1168.75 73.75,1168.75 98.5,1130 83,1130"/>
  <polygon points="77.5,1168.75 381,1168.75 381,1130 101.5,1130"/>
 </g>
</svg>
<svg class="abs" style="left:100px;top:1130px" width="200" height="40" viewBox="100 1130 200 40"><text x="121.3" y="1158.2" font-family="Noto Sans CJK SC, Liberation Sans, sans-serif" font-weight="bold" font-size="24.2" fill="#fff" textLength="109" lengthAdjust="spacingAndGlyphs">R95-DT6</text></svg>

<div class="c hd" style="left:18.0px;top:1188.0px;width:127.5px;height:106.4px;background:#21509f">Model<br>50Hz</div>
<div class="c hd" style="left:147.5px;top:1188.0px;width:106.5px;height:106.4px;background:#21509f">Motor<br>Power</div>
<div class="c hd" style="left:256.0px;top:1188.0px;width:52.0px;height:80.0px;background:#21509f">Three<br>Phase</div>
<div class="c hd" style="left:256.0px;top:1270.0px;width:52.0px;height:24.4px;background:#21509f">380V</div>
<div class="c hd" style="left:310.0px;top:1188.0px;width:161.0px;height:80.0px;background:#21509f">Single<br>Phase</div>
<div class="c hd" style="left:310.0px;top:1270.0px;width:161.0px;height:24.4px;background:#21509f">220V</div>
<div class="c hd" style="left:473.0px;top:1188.0px;width:72.0px;height:27.0px;background:#21509f">Q</div>
<div class="c hd" style="left:473.0px;top:1217.0px;width:72.0px;height:24.6px;background:#21509f">US.gpm</div>
<div class="c hd" style="left:473.0px;top:1243.6px;width:72.0px;height:24.4px;background:#21509f">m³/h</div>
<div class="c hd" style="left:473.0px;top:1270.0px;width:72.0px;height:24.4px;background:#21509f">l/min</div>
<div class="c hd" style="left:547.0px;top:1188.0px;width:433.0px;height:27.0px;background:#21509f">Capacity</div>
<div class="c dt" style="left:547.0px;top:1217.0px;width:52.2px;height:24.6px;background:#eaf1fa">0</div>
<div class="c dt" style="left:601.2px;top:1217.0px;width:52.2px;height:24.6px;background:#eaf1fa">5.3</div>
<div class="c dt" style="left:655.5px;top:1217.0px;width:52.2px;height:24.6px;background:#eaf1fa">10.6</div>
<div class="c dt" style="left:709.8px;top:1217.0px;width:52.2px;height:24.6px;background:#eaf1fa">15.8</div>
<div class="c dt" style="left:764.0px;top:1217.0px;width:52.2px;height:24.6px;background:#eaf1fa">21.1</div>
<div class="c dt" style="left:818.2px;top:1217.0px;width:52.2px;height:24.6px;background:#eaf1fa">26.4</div>
<div class="c dt" style="left:872.5px;top:1217.0px;width:52.2px;height:24.6px;background:#eaf1fa">31.7</div>
<div class="c dt" style="left:926.8px;top:1217.0px;width:53.2px;height:24.6px;background:#eaf1fa">37.0</div>
<div class="c dt" style="left:547.0px;top:1243.6px;width:52.2px;height:24.4px;background:#fff">0</div>
<div class="c dt" style="left:601.2px;top:1243.6px;width:52.2px;height:24.4px;background:#fff">1.2</div>
<div class="c dt" style="left:655.5px;top:1243.6px;width:52.2px;height:24.4px;background:#fff">2.4</div>
<div class="c dt" style="left:709.8px;top:1243.6px;width:52.2px;height:24.4px;background:#fff">3.6</div>
<div class="c dt" style="left:764.0px;top:1243.6px;width:52.2px;height:24.4px;background:#fff">4.8</div>
<div class="c dt" style="left:818.2px;top:1243.6px;width:52.2px;height:24.4px;background:#fff">6</div>
<div class="c dt" style="left:872.5px;top:1243.6px;width:52.2px;height:24.4px;background:#fff">7.2</div>
<div class="c dt" style="left:926.8px;top:1243.6px;width:53.2px;height:24.4px;background:#fff">8.4</div>
<div class="c dt" style="left:547.0px;top:1270.0px;width:52.2px;height:24.4px;background:#eaf1fa">0</div>
<div class="c dt" style="left:601.2px;top:1270.0px;width:52.2px;height:24.4px;background:#eaf1fa">20.0</div>
<div class="c dt" style="left:655.5px;top:1270.0px;width:52.2px;height:24.4px;background:#eaf1fa">40.0</div>
<div class="c dt" style="left:709.8px;top:1270.0px;width:52.2px;height:24.4px;background:#eaf1fa">60.0</div>
<div class="c dt" style="left:764.0px;top:1270.0px;width:52.2px;height:24.4px;background:#eaf1fa">80.0</div>
<div class="c dt" style="left:818.2px;top:1270.0px;width:52.2px;height:24.4px;background:#eaf1fa">100.0</div>
<div class="c dt" style="left:872.5px;top:1270.0px;width:52.2px;height:24.4px;background:#eaf1fa">120.0</div>
<div class="c dt" style="left:926.8px;top:1270.0px;width:53.2px;height:24.4px;background:#eaf1fa">140.0</div>
<div class="c hd" style="left:18.0px;top:1296.4px;width:127.5px;height:25.0px;background:#21509f"></div>
<div class="c hd" style="left:147.5px;top:1296.4px;width:52.0px;height:25.0px;background:#21509f">HP</div>
<div class="c hd" style="left:201.5px;top:1296.4px;width:52.5px;height:25.0px;background:#21509f">kW</div>
<div class="c hd" style="left:256.0px;top:1296.4px;width:52.0px;height:25.0px;background:#21509f">A</div>
<div class="c hd" style="left:310.0px;top:1296.4px;width:52.7px;height:25.0px;background:#21509f">A</div>
<div class="c hd" style="left:364.7px;top:1296.4px;width:52.3px;height:25.0px;background:#21509f">µF</div>
<div class="c hd" style="left:419.0px;top:1296.4px;width:52.0px;height:25.0px;background:#21509f">VC</div>
<div class="c hd" style="left:473.0px;top:1296.4px;width:507.0px;height:25.0px;background:#21509f">Total head in meters</div>
<div class="c md" style="left:20.0px;top:1323.9px;width:125.5px;height:24.2px;background:#eaf1fa">R95-DT6-05</div>
<div class="c dt" style="left:147.5px;top:1323.9px;width:52.0px;height:24.2px;background:#eaf1fa">0.5</div>
<div class="c dt" style="left:201.5px;top:1323.9px;width:52.5px;height:24.2px;background:#eaf1fa">0.37</div>
<div class="c dt" style="left:256.0px;top:1323.9px;width:52.0px;height:24.2px;background:#eaf1fa">1.8</div>
<div class="c dt" style="left:310.0px;top:1323.9px;width:52.7px;height:24.2px;background:#eaf1fa">3.6</div>
<div class="c dt" style="left:364.7px;top:1323.9px;width:52.3px;height:24.2px;background:#eaf1fa">20</div>
<div class="c dt" style="left:419.0px;top:1323.9px;width:52.0px;height:24.2px;background:#eaf1fa">450</div>
<div class="c dt" style="left:547.0px;top:1323.9px;width:52.2px;height:24.2px;background:#eaf1fa">33</div>
<div class="c dt" style="left:601.2px;top:1323.9px;width:52.2px;height:24.2px;background:#eaf1fa">32.5</div>
<div class="c dt" style="left:655.5px;top:1323.9px;width:52.2px;height:24.2px;background:#eaf1fa">31</div>
<div class="c dt" style="left:709.8px;top:1323.9px;width:52.2px;height:24.2px;background:#eaf1fa">30</div>
<div class="c dt" style="left:764.0px;top:1323.9px;width:52.2px;height:24.2px;background:#eaf1fa">27</div>
<div class="c dt" style="left:818.2px;top:1323.9px;width:52.2px;height:24.2px;background:#eaf1fa">23</div>
<div class="c dt" style="left:872.5px;top:1323.9px;width:52.2px;height:24.2px;background:#eaf1fa">18</div>
<div class="c dt" style="left:926.8px;top:1323.9px;width:51.8px;height:24.2px;background:#eaf1fa">12</div>
<div class="c md" style="left:20.0px;top:1350.1px;width:125.5px;height:24.2px;background:#fff">R95-DT6-06</div>
<div class="c dt" style="left:147.5px;top:1350.1px;width:52.0px;height:24.2px;background:#fff">0.75</div>
<div class="c dt" style="left:201.5px;top:1350.1px;width:52.5px;height:24.2px;background:#fff">0.55</div>
<div class="c dt" style="left:256.0px;top:1350.1px;width:52.0px;height:24.2px;background:#fff">2</div>
<div class="c dt" style="left:310.0px;top:1350.1px;width:52.7px;height:24.2px;background:#fff">4.8</div>
<div class="c dt" style="left:364.7px;top:1350.1px;width:52.3px;height:24.2px;background:#fff">25</div>
<div class="c dt" style="left:419.0px;top:1350.1px;width:52.0px;height:24.2px;background:#fff">450</div>
<div class="c dt" style="left:547.0px;top:1350.1px;width:52.2px;height:24.2px;background:#fff">40</div>
<div class="c dt" style="left:601.2px;top:1350.1px;width:52.2px;height:24.2px;background:#fff">39</div>
<div class="c dt" style="left:655.5px;top:1350.1px;width:52.2px;height:24.2px;background:#fff">37.5</div>
<div class="c dt" style="left:709.8px;top:1350.1px;width:52.2px;height:24.2px;background:#fff">35.5</div>
<div class="c dt" style="left:764.0px;top:1350.1px;width:52.2px;height:24.2px;background:#fff">32.5</div>
<div class="c dt" style="left:818.2px;top:1350.1px;width:52.2px;height:24.2px;background:#fff">28</div>
<div class="c dt" style="left:872.5px;top:1350.1px;width:52.2px;height:24.2px;background:#fff">22</div>
<div class="c dt" style="left:926.8px;top:1350.1px;width:51.8px;height:24.2px;background:#fff">14</div>
<div class="c md" style="left:20.0px;top:1376.2px;width:125.5px;height:24.2px;background:#eaf1fa">R95-DT6-07</div>
<div class="c dt" style="left:147.5px;top:1376.2px;width:52.0px;height:24.2px;background:#eaf1fa">1</div>
<div class="c dt" style="left:201.5px;top:1376.2px;width:52.5px;height:24.2px;background:#eaf1fa">0.75</div>
<div class="c dt" style="left:256.0px;top:1376.2px;width:52.0px;height:24.2px;background:#eaf1fa">2.5</div>
<div class="c dt" style="left:310.0px;top:1376.2px;width:52.7px;height:24.2px;background:#eaf1fa">6.3</div>
<div class="c dt" style="left:364.7px;top:1376.2px;width:52.3px;height:24.2px;background:#eaf1fa">35</div>
<div class="c dt" style="left:419.0px;top:1376.2px;width:52.0px;height:24.2px;background:#eaf1fa">450</div>
<div class="c dt" style="left:547.0px;top:1376.2px;width:52.2px;height:24.2px;background:#eaf1fa">46</div>
<div class="c dt" style="left:601.2px;top:1376.2px;width:52.2px;height:24.2px;background:#eaf1fa">45</div>
<div class="c dt" style="left:655.5px;top:1376.2px;width:52.2px;height:24.2px;background:#eaf1fa">44</div>
<div class="c dt" style="left:709.8px;top:1376.2px;width:52.2px;height:24.2px;background:#eaf1fa">42</div>
<div class="c dt" style="left:764.0px;top:1376.2px;width:52.2px;height:24.2px;background:#eaf1fa">39</div>
<div class="c dt" style="left:818.2px;top:1376.2px;width:52.2px;height:24.2px;background:#eaf1fa">33</div>
<div class="c dt" style="left:872.5px;top:1376.2px;width:52.2px;height:24.2px;background:#eaf1fa">26</div>
<div class="c dt" style="left:926.8px;top:1376.2px;width:51.8px;height:24.2px;background:#eaf1fa">16</div>
<div class="c md" style="left:20.0px;top:1402.4px;width:125.5px;height:24.2px;background:#fff">R95-DT6-08</div>
<div class="c dt" style="left:147.5px;top:1402.4px;width:52.0px;height:24.2px;background:#fff">1</div>
<div class="c dt" style="left:201.5px;top:1402.4px;width:52.5px;height:24.2px;background:#fff">0.75</div>
<div class="c dt" style="left:256.0px;top:1402.4px;width:52.0px;height:24.2px;background:#fff">2.5</div>
<div class="c dt" style="left:310.0px;top:1402.4px;width:52.7px;height:24.2px;background:#fff">6.3</div>
<div class="c dt" style="left:364.7px;top:1402.4px;width:52.3px;height:24.2px;background:#fff">35</div>
<div class="c dt" style="left:419.0px;top:1402.4px;width:52.0px;height:24.2px;background:#fff">450</div>
<div class="c dt" style="left:547.0px;top:1402.4px;width:52.2px;height:24.2px;background:#fff">52</div>
<div class="c dt" style="left:601.2px;top:1402.4px;width:52.2px;height:24.2px;background:#fff">52</div>
<div class="c dt" style="left:655.5px;top:1402.4px;width:52.2px;height:24.2px;background:#fff">51</div>
<div class="c dt" style="left:709.8px;top:1402.4px;width:52.2px;height:24.2px;background:#fff">48</div>
<div class="c dt" style="left:764.0px;top:1402.4px;width:52.2px;height:24.2px;background:#fff">44</div>
<div class="c dt" style="left:818.2px;top:1402.4px;width:52.2px;height:24.2px;background:#fff">37</div>
<div class="c dt" style="left:872.5px;top:1402.4px;width:52.2px;height:24.2px;background:#fff">30</div>
<div class="c dt" style="left:926.8px;top:1402.4px;width:51.8px;height:24.2px;background:#fff">18</div>
<div class="c md" style="left:20.0px;top:1428.5px;width:125.5px;height:24.2px;background:#eaf1fa">R95-DT6-09</div>
<div class="c dt" style="left:147.5px;top:1428.5px;width:52.0px;height:24.2px;background:#eaf1fa">1.5</div>
<div class="c dt" style="left:201.5px;top:1428.5px;width:52.5px;height:24.2px;background:#eaf1fa">1.1</div>
<div class="c dt" style="left:256.0px;top:1428.5px;width:52.0px;height:24.2px;background:#eaf1fa">3.4</div>
<div class="c dt" style="left:310.0px;top:1428.5px;width:52.7px;height:24.2px;background:#eaf1fa">8.6</div>
<div class="c dt" style="left:364.7px;top:1428.5px;width:52.3px;height:24.2px;background:#eaf1fa">45</div>
<div class="c dt" style="left:419.0px;top:1428.5px;width:52.0px;height:24.2px;background:#eaf1fa">450</div>
<div class="c dt" style="left:547.0px;top:1428.5px;width:52.2px;height:24.2px;background:#eaf1fa">59</div>
<div class="c dt" style="left:601.2px;top:1428.5px;width:52.2px;height:24.2px;background:#eaf1fa">58</div>
<div class="c dt" style="left:655.5px;top:1428.5px;width:52.2px;height:24.2px;background:#eaf1fa">57</div>
<div class="c dt" style="left:709.8px;top:1428.5px;width:52.2px;height:24.2px;background:#eaf1fa">54</div>
<div class="c dt" style="left:764.0px;top:1428.5px;width:52.2px;height:24.2px;background:#eaf1fa">50</div>
<div class="c dt" style="left:818.2px;top:1428.5px;width:52.2px;height:24.2px;background:#eaf1fa">42</div>
<div class="c dt" style="left:872.5px;top:1428.5px;width:52.2px;height:24.2px;background:#eaf1fa">34</div>
<div class="c dt" style="left:926.8px;top:1428.5px;width:51.8px;height:24.2px;background:#eaf1fa">20</div>
<div class="c md" style="left:20.0px;top:1454.7px;width:125.5px;height:24.2px;background:#fff">R95-DT6-11</div>
<div class="c dt" style="left:147.5px;top:1454.7px;width:52.0px;height:24.2px;background:#fff">1.5</div>
<div class="c dt" style="left:201.5px;top:1454.7px;width:52.5px;height:24.2px;background:#fff">1.1</div>
<div class="c dt" style="left:256.0px;top:1454.7px;width:52.0px;height:24.2px;background:#fff">3.4</div>
<div class="c dt" style="left:310.0px;top:1454.7px;width:52.7px;height:24.2px;background:#fff">8.6</div>
<div class="c dt" style="left:364.7px;top:1454.7px;width:52.3px;height:24.2px;background:#fff">45</div>
<div class="c dt" style="left:419.0px;top:1454.7px;width:52.0px;height:24.2px;background:#fff">450</div>
<div class="c dt" style="left:547.0px;top:1454.7px;width:52.2px;height:24.2px;background:#fff">73</div>
<div class="c dt" style="left:601.2px;top:1454.7px;width:52.2px;height:24.2px;background:#fff">71</div>
<div class="c dt" style="left:655.5px;top:1454.7px;width:52.2px;height:24.2px;background:#fff">70</div>
<div class="c dt" style="left:709.8px;top:1454.7px;width:52.2px;height:24.2px;background:#fff">66</div>
<div class="c dt" style="left:764.0px;top:1454.7px;width:52.2px;height:24.2px;background:#fff">61</div>
<div class="c dt" style="left:818.2px;top:1454.7px;width:52.2px;height:24.2px;background:#fff">53</div>
<div class="c dt" style="left:872.5px;top:1454.7px;width:52.2px;height:24.2px;background:#fff">42</div>
<div class="c dt" style="left:926.8px;top:1454.7px;width:51.8px;height:24.2px;background:#fff">24</div>
<div class="c md" style="left:20.0px;top:1480.9px;width:125.5px;height:24.2px;background:#eaf1fa">R95-DT6-12</div>
<div class="c dt" style="left:147.5px;top:1480.9px;width:52.0px;height:24.2px;background:#eaf1fa">2</div>
<div class="c dt" style="left:201.5px;top:1480.9px;width:52.5px;height:24.2px;background:#eaf1fa">1.5</div>
<div class="c dt" style="left:256.0px;top:1480.9px;width:52.0px;height:24.2px;background:#eaf1fa">4.4</div>
<div class="c dt" style="left:310.0px;top:1480.9px;width:52.7px;height:24.2px;background:#eaf1fa">10</div>
<div class="c dt" style="left:364.7px;top:1480.9px;width:52.3px;height:24.2px;background:#eaf1fa">55</div>
<div class="c dt" style="left:419.0px;top:1480.9px;width:52.0px;height:24.2px;background:#eaf1fa">450</div>
<div class="c dt" style="left:547.0px;top:1480.9px;width:52.2px;height:24.2px;background:#eaf1fa">80</div>
<div class="c dt" style="left:601.2px;top:1480.9px;width:52.2px;height:24.2px;background:#eaf1fa">77</div>
<div class="c dt" style="left:655.5px;top:1480.9px;width:52.2px;height:24.2px;background:#eaf1fa">76</div>
<div class="c dt" style="left:709.8px;top:1480.9px;width:52.2px;height:24.2px;background:#eaf1fa">72</div>
<div class="c dt" style="left:764.0px;top:1480.9px;width:52.2px;height:24.2px;background:#eaf1fa">66.5</div>
<div class="c dt" style="left:818.2px;top:1480.9px;width:52.2px;height:24.2px;background:#eaf1fa">58</div>
<div class="c dt" style="left:872.5px;top:1480.9px;width:52.2px;height:24.2px;background:#eaf1fa">46</div>
<div class="c dt" style="left:926.8px;top:1480.9px;width:51.8px;height:24.2px;background:#eaf1fa">26</div>
<div class="c md" style="left:20.0px;top:1507.0px;width:125.5px;height:24.2px;background:#fff">R95-DT6-14</div>
<div class="c dt" style="left:147.5px;top:1507.0px;width:52.0px;height:24.2px;background:#fff">2</div>
<div class="c dt" style="left:201.5px;top:1507.0px;width:52.5px;height:24.2px;background:#fff">1.5</div>
<div class="c dt" style="left:256.0px;top:1507.0px;width:52.0px;height:24.2px;background:#fff">4.4</div>
<div class="c dt" style="left:310.0px;top:1507.0px;width:52.7px;height:24.2px;background:#fff">10</div>
<div class="c dt" style="left:364.7px;top:1507.0px;width:52.3px;height:24.2px;background:#fff">55</div>
<div class="c dt" style="left:419.0px;top:1507.0px;width:52.0px;height:24.2px;background:#fff">450</div>
<div class="c dt" style="left:547.0px;top:1507.0px;width:52.2px;height:24.2px;background:#fff">93</div>
<div class="c dt" style="left:601.2px;top:1507.0px;width:52.2px;height:24.2px;background:#fff">90</div>
<div class="c dt" style="left:655.5px;top:1507.0px;width:52.2px;height:24.2px;background:#fff">89</div>
<div class="c dt" style="left:709.8px;top:1507.0px;width:52.2px;height:24.2px;background:#fff">84</div>
<div class="c dt" style="left:764.0px;top:1507.0px;width:52.2px;height:24.2px;background:#fff">78</div>
<div class="c dt" style="left:818.2px;top:1507.0px;width:52.2px;height:24.2px;background:#fff">67</div>
<div class="c dt" style="left:872.5px;top:1507.0px;width:52.2px;height:24.2px;background:#fff">53</div>
<div class="c dt" style="left:926.8px;top:1507.0px;width:51.8px;height:24.2px;background:#fff">31</div>
<div class="c md" style="left:20.0px;top:1533.2px;width:125.5px;height:24.2px;background:#eaf1fa">R95-DT6-17</div>
<div class="c dt" style="left:147.5px;top:1533.2px;width:52.0px;height:24.2px;background:#eaf1fa">3</div>
<div class="c dt" style="left:201.5px;top:1533.2px;width:52.5px;height:24.2px;background:#eaf1fa">2.2</div>
<div class="c dt" style="left:256.0px;top:1533.2px;width:52.0px;height:24.2px;background:#eaf1fa">6.2</div>
<div class="c dt" style="left:310.0px;top:1533.2px;width:52.7px;height:24.2px;background:#eaf1fa">14</div>
<div class="c dt" style="left:364.7px;top:1533.2px;width:52.3px;height:24.2px;background:#eaf1fa">70</div>
<div class="c dt" style="left:419.0px;top:1533.2px;width:52.0px;height:24.2px;background:#eaf1fa">450</div>
<div class="c dt" style="left:547.0px;top:1533.2px;width:52.2px;height:24.2px;background:#eaf1fa">113</div>
<div class="c dt" style="left:601.2px;top:1533.2px;width:52.2px;height:24.2px;background:#eaf1fa">110</div>
<div class="c dt" style="left:655.5px;top:1533.2px;width:52.2px;height:24.2px;background:#eaf1fa">108</div>
<div class="c dt" style="left:709.8px;top:1533.2px;width:52.2px;height:24.2px;background:#eaf1fa">102</div>
<div class="c dt" style="left:764.0px;top:1533.2px;width:52.2px;height:24.2px;background:#eaf1fa">94</div>
<div class="c dt" style="left:818.2px;top:1533.2px;width:52.2px;height:24.2px;background:#eaf1fa">82</div>
<div class="c dt" style="left:872.5px;top:1533.2px;width:52.2px;height:24.2px;background:#eaf1fa">64</div>
<div class="c dt" style="left:926.8px;top:1533.2px;width:51.8px;height:24.2px;background:#eaf1fa">37</div>
<div class="c md" style="left:20.0px;top:1559.3px;width:125.5px;height:24.2px;background:#fff">R95-DT6-20</div>
<div class="c dt" style="left:147.5px;top:1559.3px;width:52.0px;height:24.2px;background:#fff">3</div>
<div class="c dt" style="left:201.5px;top:1559.3px;width:52.5px;height:24.2px;background:#fff">2.2</div>
<div class="c dt" style="left:256.0px;top:1559.3px;width:52.0px;height:24.2px;background:#fff">6.2</div>
<div class="c dt" style="left:310.0px;top:1559.3px;width:52.7px;height:24.2px;background:#fff">14</div>
<div class="c dt" style="left:364.7px;top:1559.3px;width:52.3px;height:24.2px;background:#fff">70</div>
<div class="c dt" style="left:419.0px;top:1559.3px;width:52.0px;height:24.2px;background:#fff">450</div>
<div class="c dt" style="left:547.0px;top:1559.3px;width:52.2px;height:24.2px;background:#fff">134</div>
<div class="c dt" style="left:601.2px;top:1559.3px;width:52.2px;height:24.2px;background:#fff">131</div>
<div class="c dt" style="left:655.5px;top:1559.3px;width:52.2px;height:24.2px;background:#fff">129</div>
<div class="c dt" style="left:709.8px;top:1559.3px;width:52.2px;height:24.2px;background:#fff">123</div>
<div class="c dt" style="left:764.0px;top:1559.3px;width:52.2px;height:24.2px;background:#fff">112</div>
<div class="c dt" style="left:818.2px;top:1559.3px;width:52.2px;height:24.2px;background:#fff">98</div>
<div class="c dt" style="left:872.5px;top:1559.3px;width:52.2px;height:24.2px;background:#fff">78</div>
<div class="c dt" style="left:926.8px;top:1559.3px;width:51.8px;height:24.2px;background:#fff">50</div>
<div class="c md" style="left:20.0px;top:1585.5px;width:125.5px;height:24.2px;background:#eaf1fa">R95-DT6-23</div>
<div class="c dt" style="left:147.5px;top:1585.5px;width:52.0px;height:24.2px;background:#eaf1fa">4</div>
<div class="c dt" style="left:201.5px;top:1585.5px;width:52.5px;height:24.2px;background:#eaf1fa">3</div>
<div class="c dt" style="left:256.0px;top:1585.5px;width:52.0px;height:24.2px;background:#eaf1fa">8.3</div>
<div class="c dt" style="left:310.0px;top:1585.5px;width:52.7px;height:24.2px;background:#eaf1fa">19.5</div>
<div class="c dt" style="left:364.7px;top:1585.5px;width:52.3px;height:24.2px;background:#eaf1fa">80</div>
<div class="c dt" style="left:419.0px;top:1585.5px;width:52.0px;height:24.2px;background:#eaf1fa">450</div>
<div class="c dt" style="left:547.0px;top:1585.5px;width:52.2px;height:24.2px;background:#eaf1fa">154</div>
<div class="c dt" style="left:601.2px;top:1585.5px;width:52.2px;height:24.2px;background:#eaf1fa">151</div>
<div class="c dt" style="left:655.5px;top:1585.5px;width:52.2px;height:24.2px;background:#eaf1fa">148</div>
<div class="c dt" style="left:709.8px;top:1585.5px;width:52.2px;height:24.2px;background:#eaf1fa">142</div>
<div class="c dt" style="left:764.0px;top:1585.5px;width:52.2px;height:24.2px;background:#eaf1fa">129</div>
<div class="c dt" style="left:818.2px;top:1585.5px;width:52.2px;height:24.2px;background:#eaf1fa">113</div>
<div class="c dt" style="left:872.5px;top:1585.5px;width:52.2px;height:24.2px;background:#eaf1fa">90</div>
<div class="c dt" style="left:926.8px;top:1585.5px;width:51.8px;height:24.2px;background:#eaf1fa">58</div>
<div class="c md" style="left:20.0px;top:1611.7px;width:125.5px;height:24.2px;background:#fff">R95-DT6-26</div>
<div class="c dt" style="left:147.5px;top:1611.7px;width:52.0px;height:24.2px;background:#fff">4</div>
<div class="c dt" style="left:201.5px;top:1611.7px;width:52.5px;height:24.2px;background:#fff">3</div>
<div class="c dt" style="left:256.0px;top:1611.7px;width:52.0px;height:24.2px;background:#fff">8.3</div>
<div class="c dt" style="left:310.0px;top:1611.7px;width:52.7px;height:24.2px;background:#fff">19.5</div>
<div class="c dt" style="left:364.7px;top:1611.7px;width:52.3px;height:24.2px;background:#fff">80</div>
<div class="c dt" style="left:419.0px;top:1611.7px;width:52.0px;height:24.2px;background:#fff">450</div>
<div class="c dt" style="left:547.0px;top:1611.7px;width:52.2px;height:24.2px;background:#fff">174</div>
<div class="c dt" style="left:601.2px;top:1611.7px;width:52.2px;height:24.2px;background:#fff">171</div>
<div class="c dt" style="left:655.5px;top:1611.7px;width:52.2px;height:24.2px;background:#fff">167</div>
<div class="c dt" style="left:709.8px;top:1611.7px;width:52.2px;height:24.2px;background:#fff">161</div>
<div class="c dt" style="left:764.0px;top:1611.7px;width:52.2px;height:24.2px;background:#fff">146</div>
<div class="c dt" style="left:818.2px;top:1611.7px;width:52.2px;height:24.2px;background:#fff">128</div>
<div class="c dt" style="left:872.5px;top:1611.7px;width:52.2px;height:24.2px;background:#fff">102</div>
<div class="c dt" style="left:926.8px;top:1611.7px;width:51.8px;height:24.2px;background:#fff">66</div>
<div class="c md" style="left:20.0px;top:1637.8px;width:125.5px;height:24.2px;background:#eaf1fa">R95-DT6-30</div>
<div class="c dt" style="left:147.5px;top:1637.8px;width:52.0px;height:24.2px;background:#eaf1fa">5.5</div>
<div class="c dt" style="left:201.5px;top:1637.8px;width:52.5px;height:24.2px;background:#eaf1fa">4</div>
<div class="c dt" style="left:256.0px;top:1637.8px;width:52.0px;height:24.2px;background:#eaf1fa">10.3</div>
<div class="c dt" style="left:310.0px;top:1637.8px;width:52.7px;height:24.2px;background:#eaf1fa">27</div>
<div class="c dt" style="left:364.7px;top:1637.8px;width:52.3px;height:24.2px;background:#eaf1fa">120</div>
<div class="c dt" style="left:419.0px;top:1637.8px;width:52.0px;height:24.2px;background:#eaf1fa">450</div>
<div class="c dt" style="left:547.0px;top:1637.8px;width:52.2px;height:24.2px;background:#eaf1fa">201</div>
<div class="c dt" style="left:601.2px;top:1637.8px;width:52.2px;height:24.2px;background:#eaf1fa">197</div>
<div class="c dt" style="left:655.5px;top:1637.8px;width:52.2px;height:24.2px;background:#eaf1fa">193</div>
<div class="c dt" style="left:709.8px;top:1637.8px;width:52.2px;height:24.2px;background:#eaf1fa">185</div>
<div class="c dt" style="left:764.0px;top:1637.8px;width:52.2px;height:24.2px;background:#eaf1fa">168</div>
<div class="c dt" style="left:818.2px;top:1637.8px;width:52.2px;height:24.2px;background:#eaf1fa">147</div>
<div class="c dt" style="left:872.5px;top:1637.8px;width:52.2px;height:24.2px;background:#eaf1fa">117</div>
<div class="c dt" style="left:926.8px;top:1637.8px;width:51.8px;height:24.2px;background:#eaf1fa">76</div>
<div class="c md" style="left:20.0px;top:1664.0px;width:125.5px;height:24.2px;background:#fff">R95-DT6-32</div>
<div class="c dt" style="left:147.5px;top:1664.0px;width:52.0px;height:24.2px;background:#fff">5.5</div>
<div class="c dt" style="left:201.5px;top:1664.0px;width:52.5px;height:24.2px;background:#fff">4</div>
<div class="c dt" style="left:256.0px;top:1664.0px;width:52.0px;height:24.2px;background:#fff">10.3</div>
<div class="c dt" style="left:310.0px;top:1664.0px;width:52.7px;height:24.2px;background:#fff">-</div>
<div class="c dt" style="left:364.7px;top:1664.0px;width:52.3px;height:24.2px;background:#fff">-</div>
<div class="c dt" style="left:419.0px;top:1664.0px;width:52.0px;height:24.2px;background:#fff">-</div>
<div class="c dt" style="left:547.0px;top:1664.0px;width:52.2px;height:24.2px;background:#fff">214</div>
<div class="c dt" style="left:601.2px;top:1664.0px;width:52.2px;height:24.2px;background:#fff">210</div>
<div class="c dt" style="left:655.5px;top:1664.0px;width:52.2px;height:24.2px;background:#fff">206</div>
<div class="c dt" style="left:709.8px;top:1664.0px;width:52.2px;height:24.2px;background:#fff">197</div>
<div class="c dt" style="left:764.0px;top:1664.0px;width:52.2px;height:24.2px;background:#fff">180</div>
<div class="c dt" style="left:818.2px;top:1664.0px;width:52.2px;height:24.2px;background:#fff">157</div>
<div class="c dt" style="left:872.5px;top:1664.0px;width:52.2px;height:24.2px;background:#fff">125</div>
<div class="c dt" style="left:926.8px;top:1664.0px;width:51.8px;height:24.2px;background:#fff">80</div>
<div class="c md" style="left:20.0px;top:1690.1px;width:125.5px;height:24.2px;background:#eaf1fa">R95-DT6-34</div>
<div class="c dt" style="left:147.5px;top:1690.1px;width:52.0px;height:24.2px;background:#eaf1fa">5.5</div>
<div class="c dt" style="left:201.5px;top:1690.1px;width:52.5px;height:24.2px;background:#eaf1fa">4</div>
<div class="c dt" style="left:256.0px;top:1690.1px;width:52.0px;height:24.2px;background:#eaf1fa">10.3</div>
<div class="c dt" style="left:310.0px;top:1690.1px;width:52.7px;height:24.2px;background:#eaf1fa">27</div>
<div class="c dt" style="left:364.7px;top:1690.1px;width:52.3px;height:24.2px;background:#eaf1fa">120</div>
<div class="c dt" style="left:419.0px;top:1690.1px;width:52.0px;height:24.2px;background:#eaf1fa">450</div>
<div class="c dt" style="left:547.0px;top:1690.1px;width:52.2px;height:24.2px;background:#eaf1fa">228</div>
<div class="c dt" style="left:601.2px;top:1690.1px;width:52.2px;height:24.2px;background:#eaf1fa">223</div>
<div class="c dt" style="left:655.5px;top:1690.1px;width:52.2px;height:24.2px;background:#eaf1fa">219</div>
<div class="c dt" style="left:709.8px;top:1690.1px;width:52.2px;height:24.2px;background:#eaf1fa">210</div>
<div class="c dt" style="left:764.0px;top:1690.1px;width:52.2px;height:24.2px;background:#eaf1fa">191</div>
<div class="c dt" style="left:818.2px;top:1690.1px;width:52.2px;height:24.2px;background:#eaf1fa">167</div>
<div class="c dt" style="left:872.5px;top:1690.1px;width:52.2px;height:24.2px;background:#eaf1fa">133</div>
<div class="c dt" style="left:926.8px;top:1690.1px;width:51.8px;height:24.2px;background:#eaf1fa">86</div>
<div class="c md" style="left:20.0px;top:1716.3px;width:125.5px;height:24.2px;background:#fff">R95-DT6-38</div>
<div class="c dt" style="left:147.5px;top:1716.3px;width:52.0px;height:24.2px;background:#fff">7.5</div>
<div class="c dt" style="left:201.5px;top:1716.3px;width:52.5px;height:24.2px;background:#fff">5.5</div>
<div class="c dt" style="left:256.0px;top:1716.3px;width:52.0px;height:24.2px;background:#fff">14</div>
<div class="c dt" style="left:310.0px;top:1716.3px;width:52.7px;height:24.2px;background:#fff">-</div>
<div class="c dt" style="left:364.7px;top:1716.3px;width:52.3px;height:24.2px;background:#fff">-</div>
<div class="c dt" style="left:419.0px;top:1716.3px;width:52.0px;height:24.2px;background:#fff">-</div>
<div class="c dt" style="left:547.0px;top:1716.3px;width:52.2px;height:24.2px;background:#fff">254</div>
<div class="c dt" style="left:601.2px;top:1716.3px;width:52.2px;height:24.2px;background:#fff">249</div>
<div class="c dt" style="left:655.5px;top:1716.3px;width:52.2px;height:24.2px;background:#fff">245</div>
<div class="c dt" style="left:709.8px;top:1716.3px;width:52.2px;height:24.2px;background:#fff">235</div>
<div class="c dt" style="left:764.0px;top:1716.3px;width:52.2px;height:24.2px;background:#fff">213</div>
<div class="c dt" style="left:818.2px;top:1716.3px;width:52.2px;height:24.2px;background:#fff">187</div>
<div class="c dt" style="left:872.5px;top:1716.3px;width:52.2px;height:24.2px;background:#fff">149</div>
<div class="c dt" style="left:926.8px;top:1716.3px;width:51.8px;height:24.2px;background:#fff">96</div>
<div class="c md" style="left:20.0px;top:1742.5px;width:125.5px;height:24.2px;background:#eaf1fa">R95-DT6-42</div>
<div class="c dt" style="left:147.5px;top:1742.5px;width:52.0px;height:24.2px;background:#eaf1fa">7.5</div>
<div class="c dt" style="left:201.5px;top:1742.5px;width:52.5px;height:24.2px;background:#eaf1fa">5.5</div>
<div class="c dt" style="left:256.0px;top:1742.5px;width:52.0px;height:24.2px;background:#eaf1fa">14</div>
<div class="c dt" style="left:310.0px;top:1742.5px;width:52.7px;height:24.2px;background:#eaf1fa">-</div>
<div class="c dt" style="left:364.7px;top:1742.5px;width:52.3px;height:24.2px;background:#eaf1fa">-</div>
<div class="c dt" style="left:419.0px;top:1742.5px;width:52.0px;height:24.2px;background:#eaf1fa">-</div>
<div class="c dt" style="left:547.0px;top:1742.5px;width:52.2px;height:24.2px;background:#eaf1fa">281</div>
<div class="c dt" style="left:601.2px;top:1742.5px;width:52.2px;height:24.2px;background:#eaf1fa">276</div>
<div class="c dt" style="left:655.5px;top:1742.5px;width:52.2px;height:24.2px;background:#eaf1fa">270</div>
<div class="c dt" style="left:709.8px;top:1742.5px;width:52.2px;height:24.2px;background:#eaf1fa">259</div>
<div class="c dt" style="left:764.0px;top:1742.5px;width:52.2px;height:24.2px;background:#eaf1fa">236</div>
<div class="c dt" style="left:818.2px;top:1742.5px;width:52.2px;height:24.2px;background:#eaf1fa">206</div>
<div class="c dt" style="left:872.5px;top:1742.5px;width:52.2px;height:24.2px;background:#eaf1fa">164</div>
<div class="c dt" style="left:926.8px;top:1742.5px;width:51.8px;height:24.2px;background:#eaf1fa">106</div>
<div class="c md" style="left:20.0px;top:1768.6px;width:125.5px;height:24.2px;background:#fff">R95-DT6-46</div>
<div class="c dt" style="left:147.5px;top:1768.6px;width:52.0px;height:24.2px;background:#fff">10</div>
<div class="c dt" style="left:201.5px;top:1768.6px;width:52.5px;height:24.2px;background:#fff">7.5</div>
<div class="c dt" style="left:256.0px;top:1768.6px;width:52.0px;height:24.2px;background:#fff">18.5</div>
<div class="c dt" style="left:310.0px;top:1768.6px;width:52.7px;height:24.2px;background:#fff">-</div>
<div class="c dt" style="left:364.7px;top:1768.6px;width:52.3px;height:24.2px;background:#fff">-</div>
<div class="c dt" style="left:419.0px;top:1768.6px;width:52.0px;height:24.2px;background:#fff">-</div>
<div class="c dt" style="left:547.0px;top:1768.6px;width:52.2px;height:24.2px;background:#fff">308</div>
<div class="c dt" style="left:601.2px;top:1768.6px;width:52.2px;height:24.2px;background:#fff">302</div>
<div class="c dt" style="left:655.5px;top:1768.6px;width:52.2px;height:24.2px;background:#fff">296</div>
<div class="c dt" style="left:709.8px;top:1768.6px;width:52.2px;height:24.2px;background:#fff">284</div>
<div class="c dt" style="left:764.0px;top:1768.6px;width:52.2px;height:24.2px;background:#fff">258</div>
<div class="c dt" style="left:818.2px;top:1768.6px;width:52.2px;height:24.2px;background:#fff">226</div>
<div class="c dt" style="left:872.5px;top:1768.6px;width:52.2px;height:24.2px;background:#fff">180</div>
<div class="c dt" style="left:926.8px;top:1768.6px;width:51.8px;height:24.2px;background:#fff">116</div>
<div class="c md" style="left:20.0px;top:1794.8px;width:125.5px;height:24.2px;background:#eaf1fa">R95-DT6-50</div>
<div class="c dt" style="left:147.5px;top:1794.8px;width:52.0px;height:24.2px;background:#eaf1fa">10</div>
<div class="c dt" style="left:201.5px;top:1794.8px;width:52.5px;height:24.2px;background:#eaf1fa">7.5</div>
<div class="c dt" style="left:256.0px;top:1794.8px;width:52.0px;height:24.2px;background:#eaf1fa">18.5</div>
<div class="c dt" style="left:310.0px;top:1794.8px;width:52.7px;height:24.2px;background:#eaf1fa">-</div>
<div class="c dt" style="left:364.7px;top:1794.8px;width:52.3px;height:24.2px;background:#eaf1fa">-</div>
<div class="c dt" style="left:419.0px;top:1794.8px;width:52.0px;height:24.2px;background:#eaf1fa">-</div>
<div class="c dt" style="left:547.0px;top:1794.8px;width:52.2px;height:24.2px;background:#eaf1fa">335</div>
<div class="c dt" style="left:601.2px;top:1794.8px;width:52.2px;height:24.2px;background:#eaf1fa">328</div>
<div class="c dt" style="left:655.5px;top:1794.8px;width:52.2px;height:24.2px;background:#eaf1fa">322</div>
<div class="c dt" style="left:709.8px;top:1794.8px;width:52.2px;height:24.2px;background:#eaf1fa">309</div>
<div class="c dt" style="left:764.0px;top:1794.8px;width:52.2px;height:24.2px;background:#eaf1fa">280</div>
<div class="c dt" style="left:818.2px;top:1794.8px;width:52.2px;height:24.2px;background:#eaf1fa">246</div>
<div class="c dt" style="left:872.5px;top:1794.8px;width:52.2px;height:24.2px;background:#eaf1fa">196</div>
<div class="c dt" style="left:926.8px;top:1794.8px;width:51.8px;height:24.2px;background:#eaf1fa">126</div>
<div class="c hm" style="left:473.0px;top:1323.9px;width:72.0px;height:494.0px;background:#eaf1fa">H<br>m</div>
<div class="abs" style="left:18px;top:1188px;width:963px;height:633.3px;border:1.3px solid #2458b0;border-top:none"></div>
</body></html>
